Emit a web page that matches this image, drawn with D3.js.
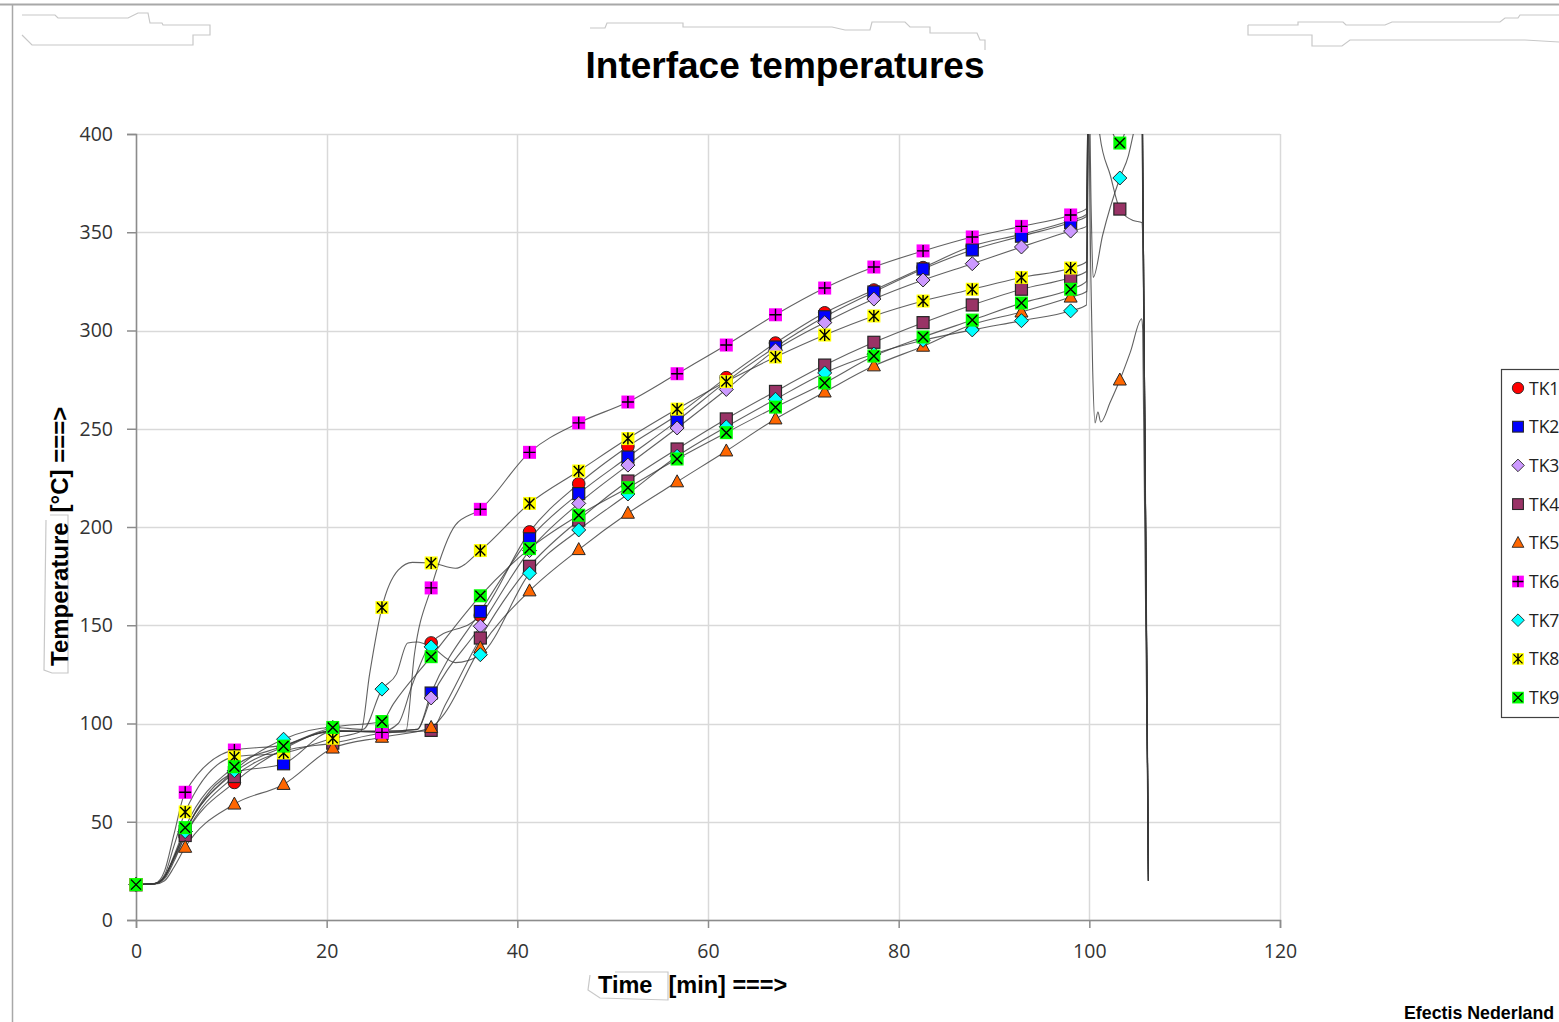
<!DOCTYPE html>
<html>
<head>
<meta charset="utf-8">
<script src="https://cdn.jsdelivr.net/npm/d3@7"></script>
<style>
  body { margin: 0; background: #fff; }
  svg { display: block; }
</style>
</head>
<body>
<svg id="chart" width="1559" height="1022"></svg>
<script>
// marker positions along the time axis (min)
const markerTimes = [0, 5.16, 10.32, 15.48, 20.64, 25.8, 30.96, 36.12, 41.28, 46.44, 51.6,
                     56.76, 61.92, 67.08, 72.24, 77.4, 82.56, 87.72, 92.88, 98.04, 103.2];

// temperatures at the marker positions (null = off the top of the chart)
const tk1 = [18, 43, 70, 87, 96, 96, 141, 155, 197.5, 222, 241, 257, 276, 293.6, 309, 320.6, 332, 343, 349, 356, null];
const tk2 = [18, 45, 75, 79.5, 96, 96, 115.5, 157, 194, 217, 235.6, 254, 274, 291.6, 307, 319.6, 331.3, 341, 348, 355, null];
const tk3 = [18, 45, 75, 88, 96, 96, 113, 149.5, 188, 212, 231.5, 250.4, 270, 290, 304, 316, 325.7, 334, 342.5, 350.6, null];
const tk4 = [18, 43, 73, 86, 90, 95, 96.5, 143.5, 180, 203.5, 223.4, 239.7, 255, 269, 282.4, 294, 304, 313, 321, 327, 361.8];
const tk5 = [18, 37, 59, 69, 87.5, 93, 98, 138.5, 167.5, 188.5, 207, 223, 238.7, 255, 268.7, 282, 292, 303, 309.4, 317, 274.8];
const tk6 = [18, 65, 86.5, 89, 96.5, 95.5, 169, 209, 238, 253, 263.6, 278, 292.6, 308, 321.6, 332.3, 340.5, 347.6, 353, 358.8, null];
const tk7 = [18, 45, 76, 92, 98, 117.5, 139, 135, 176.5, 198.5, 216.8, 236, 251, 265, 278.4, 288, 295, 300.3, 305, 310, 377.6];
const tk8 = [18, 55, 83, 85, 92.5, 159, 181.7, 188, 212, 228.5, 245, 260, 274, 286.5, 297.7, 307.4, 315, 321, 327, 331.8, null];
const tk9 = [18, 47, 78, 88.5, 98, 101, 134, 165, 189, 206, 220, 234.6, 248, 261, 273.3, 287, 296.7, 305.3, 314, 321, 395.4];

// extra readings between markers, [time, temp], that give the traces their shape
const tk1Extra = [[2, 18.5], [3, 22], [4, 31], [27.5, 100], [29, 120], [99.7, 359], [99.95, 450], [105.5, 450], [106.2, 20]];
const tk2Extra = [[2, 18.5], [3, 22], [4, 32], [29.5, 97], [99.7, 358], [99.95, 450], [105.5, 450], [106.2, 20]];
const tk3Extra = [[2, 18.5], [3, 22], [4, 32], [29.5, 97], [99.7, 353], [99.95, 450], [105.5, 450], [106.2, 20]];
const tk4Extra = [[2, 18.5], [3, 21], [4, 30], [32.5, 110], [99.7, 330], [99.95, 440], [100.8, 420], [101.1, 399.5],
                  [102.2, 379], [104.6, 356], [105.5, 355], [106.2, 20]];
const tk5Extra = [[2, 18.3], [3, 20], [4, 27], [32.2, 104], [99.75, 320], [99.9, 420], [100.15, 330], [100.35, 280],
                  [100.6, 253], [100.9, 258.5], [101.2, 253.4], [102.2, 263.6], [104.3, 289], [105.5, 306], [105.6, 300], [106.2, 20]];
const tk6Extra = [[2, 18.7], [3, 25], [4, 44], [28.3, 96], [29.2, 135], [33.5, 201], [99.7, 362], [99.95, 450], [105.5, 450], [106.2, 20]];
const tk7Extra = [[2, 18.5], [3, 22], [4, 32], [23.8, 97], [27.3, 125], [28.5, 141], [29.5, 141.5], [33.5, 131],
                  [99.7, 313], [99.95, 430], [100.2, 360], [100.4, 327], [101.4, 348.6], [104.1, 389], [104.7, 402],
                  [105.5, 420], [106.2, 20]];
const tk8Extra = [[2, 18.6], [3, 23], [4, 38], [23.6, 96], [24.5, 125], [27.5, 178], [29, 182], [33.5, 179],
                  [99.7, 335], [99.95, 450], [105.5, 450], [106.2, 20]];
const tk9Extra = [[2, 18.5], [3, 22], [4, 33], [27, 110], [99.7, 325], [99.95, 440], [101.5, 420], [102.5, 400],
                  [104, 405], [105.5, 430], [106.2, 20]];

const xTicks = [0, 20, 40, 60, 80, 100, 120];
const yTicks = [0, 50, 100, 150, 200, 250, 300, 350, 400];

const series = [
  { name: "TK1", values: tk1, extra: tk1Extra, shape: "circle",   fill: "#ff0000" },
  { name: "TK2", values: tk2, extra: tk2Extra, shape: "square",   fill: "#0000ff" },
  { name: "TK3", values: tk3, extra: tk3Extra, shape: "diamond",  fill: "#cc99ff" },
  { name: "TK4", values: tk4, extra: tk4Extra, shape: "square",   fill: "#993366" },
  { name: "TK5", values: tk5, extra: tk5Extra, shape: "triangle", fill: "#ff6600" },
  { name: "TK6", values: tk6, extra: tk6Extra, shape: "plus",     fill: "#ff00ff" },
  { name: "TK7", values: tk7, extra: tk7Extra, shape: "diamond",  fill: "#00ffff" },
  { name: "TK8", values: tk8, extra: tk8Extra, shape: "star",     fill: "#ffff00" },
  { name: "TK9", values: tk9, extra: tk9Extra, shape: "cross",    fill: "#00ff00" }
];

const svg = d3.select("#chart");
const plot = { left: 136, right: 1280, top: 134, bottom: 920 };

const x = d3.scaleLinear().domain([0, 120]).range([plot.left, plot.right]);
const y = d3.scaleLinear().domain([0, 400]).range([plot.bottom, plot.top]);

// page frame + the faint scan/redaction outlines
svg.append("line").attr("x1", 0).attr("x2", 1559).attr("y1", 4.5).attr("y2", 4.5)
  .attr("stroke", "#a8a8a8").attr("stroke-width", 2);
svg.append("line").attr("x1", 12.5).attr("x2", 12.5).attr("y1", 4).attr("y2", 1022)
  .attr("stroke", "#a8a8a8").attr("stroke-width", 1.5);

const outlines = [
  [[22,15],[55,15],[58,18],[128,18],[138,13],[148,13],[150,23],[162,23],[163,25],[210,25],[210,35],[193,35],[193,45],[32,45],[22,35]],
  [[590,28],[605,28],[607,23],[683,23],[683,27],[832,27],[845,30],[870,30],[872,22],[905,22],[910,27],[930,27],[930,33],[977,33],[980,40],[985,40],[985,50]],
  [[1248,25],[1298,25],[1298,22],[1343,22],[1346,25],[1385,25],[1392,22],[1500,22],[1505,18],[1518,18],[1520,15],[1559,15]],
  [[1559,42],[1525,40],[1350,40],[1342,46],[1312,46],[1312,35],[1248,35],[1248,25]],
  [[46,520],[44,670],[52,673],[68,673],[68,515],[50,515]],
  [[590,975],[588,990],[600,998],[668,1000],[668,972],[615,972]]
];
svg.append("g").selectAll("path").data(outlines).join("path")
  .attr("d", d => d3.line()(d))
  .attr("fill", "none").attr("stroke", "#c8c8c8").attr("stroke-width", 1.2);

// gridlines
const grid = svg.append("g");
grid.selectAll(".gy").data(yTicks).join("line")
  .attr("x1", plot.left).attr("x2", plot.right)
  .attr("y1", d => Math.round(y(d)) + 0.5).attr("y2", d => Math.round(y(d)) + 0.5)
  .attr("stroke", "#d9d9d9").attr("stroke-width", 1.5);
grid.selectAll(".gx").data(xTicks).join("line")
  .attr("y1", plot.top).attr("y2", plot.bottom)
  .attr("x1", d => Math.round(x(d)) + 0.5).attr("x2", d => Math.round(x(d)) + 0.5)
  .attr("stroke", "#d9d9d9").attr("stroke-width", 1.5);

// axes
const yAxis = svg.append("g").attr("transform", `translate(${plot.left},0)`)
  .call(d3.axisLeft(y).tickValues(yTicks).tickSize(9).tickPadding(14));
const xAxis = svg.append("g").attr("transform", `translate(0,${plot.bottom})`)
  .call(d3.axisBottom(x).tickValues(xTicks).tickSize(8).tickPadding(16));
[yAxis, xAxis].forEach(a => {
  a.select(".domain").attr("stroke", "#8c8c8c").attr("stroke-width", 1.5);
  a.selectAll(".tick line").attr("stroke", "#8c8c8c").attr("stroke-width", 1.5);
  a.selectAll(".tick text").attr("font-family", "'Open Sans', sans-serif")
    .attr("font-size", 19.5).attr("fill", "#333");
});

// title and axis titles
const arial = "'Liberation Sans', Arial, sans-serif";
svg.append("text").attr("x", 785).attr("y", 78).attr("text-anchor", "middle")
  .attr("font-family", arial).attr("font-weight", "bold")
  .attr("font-size", 37).attr("fill", "#000").text("Interface temperatures");

const yTitle = svg.append("text").attr("transform", "translate(68,666) rotate(-90)")
  .attr("font-family", arial).attr("font-weight", "bold")
  .attr("font-size", 24).attr("fill", "#000");
yTitle.append("tspan").text("Temperature");
yTitle.append("tspan").attr("dx", 10).text("[°C] ===>");

const xTitle = svg.append("text").attr("x", 598).attr("y", 993)
  .attr("font-family", arial).attr("font-weight", "bold")
  .attr("font-size", 23.5).attr("fill", "#000");
xTitle.append("tspan").text("Time");
xTitle.append("tspan").attr("dx", 16).text("[min] ===>");

svg.append("text").attr("x", 1404).attr("y", 1019)
  .attr("font-family", arial).attr("font-weight", "bold")
  .attr("font-size", 17.8).attr("fill", "#000").text("Efectis Nederland");

// traces
svg.append("defs").append("clipPath").attr("id", "plotclip").append("rect")
  .attr("x", plot.left).attr("y", plot.top)
  .attr("width", plot.right - plot.left).attr("height", plot.bottom - plot.top);

const line = d3.line()
  .x(d => x(d[0])).y(d => y(d[1]))
  .curve(d3.curveMonotoneX);

function tracePoints(s) {
  const pts = markerTimes.map((t, i) => [t, s.values[i]]).filter(d => d[1] != null);
  return pts.concat(s.extra).sort((a, b) => a[0] - b[0]);
}

svg.append("g").attr("clip-path", "url(#plotclip)")
  .selectAll("path").data(series).join("path")
  .attr("d", s => line(tracePoints(s)))
  .attr("fill", "none").attr("stroke", "#3a3a3a").attr("stroke-width", 1.1).attr("stroke-opacity", 0.8);

// markers
function drawMarker(g, shape, fill) {
  const edge = "#262626";
  if (shape === "circle") {
    g.append("circle").attr("r", 6.3).attr("fill", fill).attr("stroke", edge).attr("stroke-width", 1);
  } else if (shape === "square") {
    g.append("rect").attr("x", -6).attr("y", -6).attr("width", 12).attr("height", 12)
      .attr("fill", fill).attr("stroke", edge).attr("stroke-width", 1.2);
  } else if (shape === "diamond") {
    g.append("path").attr("d", "M0,-7L7,0L0,7L-7,0Z")
      .attr("fill", fill).attr("stroke", edge).attr("stroke-width", 1);
  } else if (shape === "triangle") {
    g.append("path").attr("d", "M0,-7L6.5,5L-6.5,5Z")
      .attr("fill", fill).attr("stroke", edge).attr("stroke-width", 1);
  } else {
    g.append("rect").attr("x", -6.5).attr("y", -6.5).attr("width", 13).attr("height", 13).attr("fill", fill);
    let d = "";
    if (shape === "plus") d = "M-6,0H6M0,-6V6";
    if (shape === "cross") d = "M-5,-5L5,5M5,-5L-5,5";
    if (shape === "star") d = "M-5,-5L5,5M5,-5L-5,5M0,-6V6";
    g.append("path").attr("d", d).attr("stroke", "#000").attr("stroke-width", 1.4);
  }
}

series.forEach(s => {
  const pts = markerTimes.map((t, i) => [t, s.values[i]]).filter(d => d[1] != null);
  svg.append("g").selectAll("g").data(pts).join("g")
    .attr("transform", d => `translate(${x(d[0])},${y(d[1])})`)
    .each(function () { drawMarker(d3.select(this), s.shape, s.fill); });
});

// legend
const legend = svg.append("g").attr("transform", "translate(1501,369)");
legend.append("rect").attr("x", 0.5).attr("y", 0.5).attr("width", 80).attr("height", 348)
  .attr("fill", "#fff").attr("stroke", "#404040").attr("stroke-width", 1.2);
const item = legend.selectAll(".item").data(series).join("g")
  .attr("transform", (d, i) => `translate(17,${19 + i * 38.7})`);
item.each(function (s) {
  const g = d3.select(this).append("g").attr("transform", "scale(0.9)");
  drawMarker(g, s.shape, s.fill);
});
item.append("text").attr("x", 11).attr("y", 6.5)
  .attr("font-family", "'Open Sans', sans-serif").attr("font-size", 17.5).attr("fill", "#222")
  .text(s => s.name);
</script>
</body>
</html>
